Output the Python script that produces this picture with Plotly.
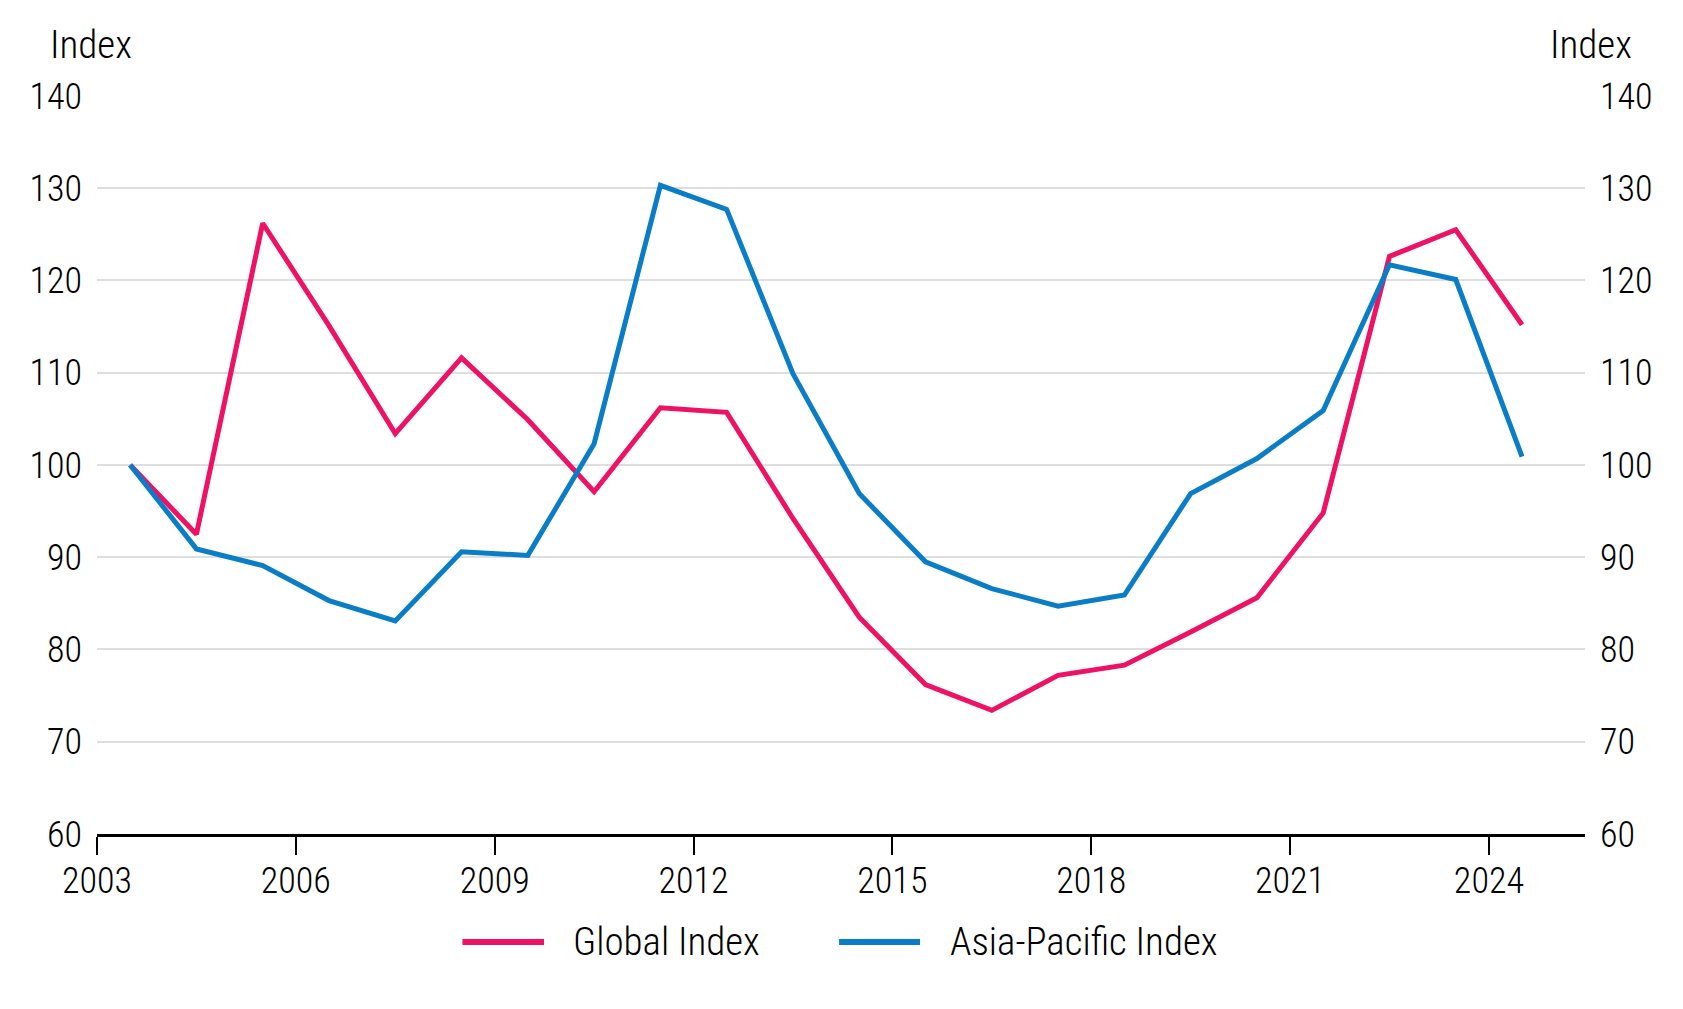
import plotly.graph_objects as go

years = [2003.5 + i for i in range(22)]
global_index = [100.0, 92.5, 126.2, 115.1, 103.4, 111.6, 104.9, 97.1, 106.2, 105.7, 94.2,
                83.5, 76.2, 73.4, 77.2, 78.3, 81.9, 85.6, 94.8, 122.6, 125.5, 115.2]
asia_pacific_index = [100.0, 90.9, 89.1, 85.3, 83.1, 90.6, 90.2, 102.3, 130.3, 127.7, 109.9,
                      96.9, 89.5, 86.6, 84.7, 85.9, 96.9, 100.7, 105.9, 121.7, 120.1, 100.9]
x_ticks = [2003, 2006, 2009, 2012, 2015, 2018, 2021, 2024]
y_ticks = [60, 70, 80, 90, 100, 110, 120, 130, 140]
series_names = ["Global Index", "Asia-Pacific Index"]
axis_title = "Index"

PINK = "#EE1164"
BLUE = "#0A7DC8"
FONT = "Roboto Condensed"
TEXT = "#000000"

fig = go.Figure()
fig.add_trace(go.Scatter(x=years, y=global_index, mode="lines", name=series_names[0],
                         line=dict(color=PINK, width=5)))
fig.add_trace(go.Scatter(x=years, y=asia_pacific_index, mode="lines", name=series_names[1],
                         line=dict(color=BLUE, width=5), yaxis="y2"))

tick_font = dict(family=FONT, size=36, color=TEXT, weight=300)
big_font = dict(family=FONT, size=39, color=TEXT, weight=300)

# custom legend (paper coordinates)
leg_y = -0.146
legend_items = [(PINK, 0.2456, 0.3004, 0.3185, series_names[0]),
                (BLUE, 0.4987, 0.5531, 0.5719, series_names[1])]
shapes = []
annotations = [
    dict(text=axis_title, xref="paper", yref="paper", x=-0.033, y=1.067,
         xanchor="left", yanchor="middle", showarrow=False, font=big_font),
    dict(text=axis_title, xref="paper", yref="paper", x=1.033, y=1.067,
         xanchor="right", yanchor="middle", showarrow=False, font=big_font),
]
for color, x0, x1, xt, name in legend_items:
    shapes.append(dict(type="line", xref="paper", yref="paper", x0=x0, x1=x1,
                       y0=leg_y, y1=leg_y, line=dict(color=color, width=6)))
    annotations.append(dict(text=name, xref="paper", yref="paper", x=xt, y=leg_y,
                            xanchor="left", yanchor="middle", showarrow=False, font=big_font))

fig.update_layout(
    width=1683, height=1009,
    margin=dict(l=97, r=98, t=95, b=175),
    paper_bgcolor="white", plot_bgcolor="white",
    font=tick_font,
    showlegend=False,
    xaxis=dict(range=[2003, 2025.45], tickvals=x_ticks, ticktext=[str(t) for t in x_ticks],
               showgrid=False, showline=True, linecolor="black", linewidth=3,
               ticks="outside", ticklen=18, tickwidth=2, tickcolor="black",
               zeroline=False, ticklabelstandoff=-5),
    yaxis=dict(range=[60, 140.1], tickvals=y_ticks, showgrid=True, gridcolor="#dedede",
               gridwidth=1.5, zeroline=False, showline=False, ticks="",
               ticklabelstandoff=14),
    yaxis2=dict(range=[60, 140.1], tickvals=y_ticks, overlaying="y", side="right",
                showgrid=False, zeroline=False, showline=False, ticks="",
                ticklabelstandoff=14),
    shapes=shapes,
    annotations=annotations,
)

fig.write_html("out.html")
